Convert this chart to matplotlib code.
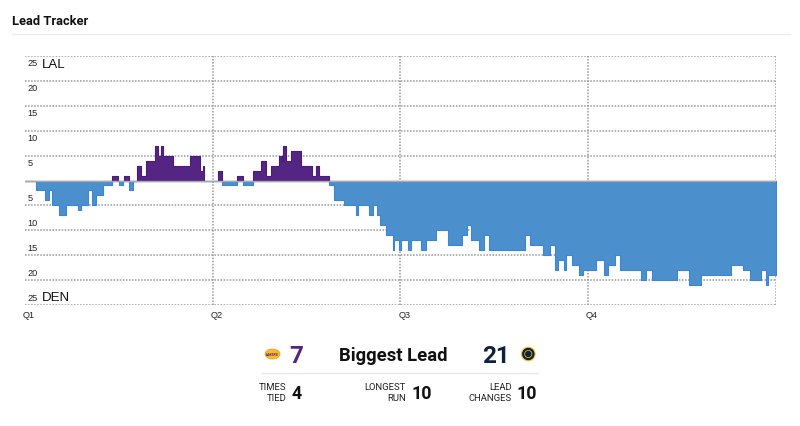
import numpy as np
import matplotlib
matplotlib.use('Agg')
import matplotlib.pyplot as plt
from matplotlib.patches import Ellipse, Circle
from matplotlib.transforms import offset_copy

plt.rcParams['font.family'] = ['Roboto', 'DejaVu Sans']

# 比赛已进行时间（分钟）与分差（正数 = 湖人领先，负数 = 掘金领先）
minutes = [0.0, 0.68, 1.28, 1.53, 1.71, 2.17, 2.62, 3.37, 3.58, 4.05, 4.30, 4.54, 4.97,
           5.54, 5.93, 6.01, 6.25, 6.31, 6.63, 6.89, 7.18, 7.40, 7.74, 8.31, 8.52, 8.70,
           8.84, 9.44, 10.55, 11.19, 11.36, 11.45,
           12.36, 12.58, 13.54, 13.92, 14.56, 15.09, 15.39, 15.73, 16.26, 16.41, 16.52,
           16.69, 17.03, 17.67, 18.33, 18.62, 18.78, 19.46, 19.78, 20.40, 21.16, 21.32,
           22.01, 22.23, 22.53, 22.70, 23.11, 23.51, 23.57, 23.93,
           24.06, 24.47, 24.70, 25.32, 25.64, 26.28, 27.03, 27.96, 28.29, 28.50, 29.05,
           29.32, 29.69, 31.97, 32.32, 33.12, 33.57, 33.92, 34.06, 34.46, 34.59, 34.99,
           35.44, 35.70,
           36.51, 37.02, 37.30, 37.70, 38.04, 39.39, 39.71, 40.09, 41.72, 42.47, 43.22,
           45.14, 45.93, 46.37, 47.03, 47.35, 47.51, 48.0]
margin = [0, -2, -4, -2, -5, -7, -5, -6, -5, -2, -5, -3, -1,
          1, 0, -1, 0, 1, -2, 0, 3, 1, 4, 7, 5, 7,
          5, 3, 5, 2, 3, 0,
          2, -1, 1, -1, 2, 4, 1, 3, 5, 4, 7,
          4, 6, 3, 1, 3, 1, -1, -4, -5, -7, -5,
          -7, -5, -7, -9, -11, -14, -12, -14,
          -12, -14, -12, -14, -12, -10, -13, -11, -9, -12, -14,
          -11, -14, -11, -13, -15, -13, -18, -16, -18, -15, -17,
          -19, -18,
          -16, -19, -17, -15, -18, -20, -18, -20, -18, -21, -19,
          -17, -18, -20, -18, -21, -19, -19]

quarter_labels = ['Q1', 'Q2', 'Q3', 'Q4']
quarter_starts = [0, 12, 24, 36]
y_ticks = [25, 20, 15, 10, 5, -5, -10, -15, -20, -25]
home_team = 'LAL'
away_team = 'DEN'
lal_biggest = 7
den_biggest = 21
stat_names = ['TIMES\nTIED', 'LONGEST\nRUN', 'LEAD\nCHANGES']
stat_values = [4, 10, 10]

lal_purple = '#552583'
lal_edge = '#4a1c78'
den_blue = '#4b8fcc'
den_edge = '#3a86d9'
den_navy = '#0e2240'

fig = plt.figure(figsize=(8, 4.27), dpi=100)

# 主图区域
ax = fig.add_axes([25 / 800, 1 - 306 / 427, 750.7 / 800, 249 / 427])
ax.set_xlim(0, 48)
ax.set_ylim(-25, 25)
ax.axis('off')

t = np.array(minutes)
v = np.array(margin)
ax.fill_between(t, 0, np.clip(v, 0, None), step='post', facecolor=lal_purple,
                edgecolor=lal_edge, linewidth=0.8, zorder=2)
ax.fill_between(t, 0, np.clip(v, None, 0), step='post', facecolor=den_blue,
                edgecolor=den_edge, linewidth=0.8, zorder=2)

# 网格线
for y in range(-25, 30, 5):
    if y == 0:
        ax.axhline(0, color='#aaaaaa', linewidth=0.9, zorder=3)
    else:
        ax.axhline(y, color='#999999', linewidth=1.1, linestyle=(0, (1, 1)), zorder=1)
for x in quarter_starts[1:] + [48]:
    ax.axvline(x, color='#999999', linewidth=1.1, linestyle=(0, (1, 1)), zorder=1)

# 刻度文字
down = offset_copy(ax.transData, fig=fig, x=0, y=-2, units='dots')
up = offset_copy(ax.transData, fig=fig, x=0, y=3, units='dots')
for y in y_ticks:
    if y > 0:
        ax.text(0.15, y, str(y), transform=down, va='top', ha='left', fontsize=6.6,
                family=['Liberation Sans'], color='#222222')
    else:
        ax.text(0.15, y, str(abs(y)), transform=up, va='bottom', ha='left', fontsize=6.6,
                family=['Liberation Sans'], color='#222222')
ax.text(1.08, 25, home_team, transform=offset_copy(ax.transData, fig=fig, x=0, y=-2, units='dots'),
        va='top', ha='left', fontsize=9.5, family=['Liberation Sans'], color='#111111')
ax.text(1.08, -25, away_team, transform=offset_copy(ax.transData, fig=fig, x=0, y=2, units='dots'),
        va='bottom', ha='left', fontsize=9.5, family=['Liberation Sans'], color='#111111')

qtrans = offset_copy(ax.transData, fig=fig, x=-2, y=-5, units='dots')
for q, x in zip(quarter_labels, quarter_starts):
    ax.text(x, -25, q, transform=qtrans, va='top', ha='left', fontsize=6.6,
            family=['Liberation Sans'], color='#222222')

# 覆盖层：像素坐标
ov = fig.add_axes([0, 0, 1, 1], zorder=5)
ov.set_xlim(0, 800)
ov.set_ylim(427, 0)
ov.axis('off')
ov.patch.set_alpha(0)

ov.text(12.5, 25, 'Lead Tracker', fontsize=9.3, fontweight='bold', color='#111111',
        ha='left', va='baseline')
ov.plot([12, 790], [34.5, 34.5], color='#ececec', linewidth=1)

# 最大领先
ov.add_patch(Ellipse((272.5, 355), 15, 10, facecolor='#fdb927', edgecolor='#e0a020', lw=0.5))
ov.text(272.5, 355.5, 'LAKERS', fontsize=2.6, fontweight='bold', style='italic',
        color=lal_purple, ha='center', va='center')
ov.text(296, 363.3, str(lal_biggest), fontsize=17.5, fontweight='bold', color=lal_purple,
        ha='center', va='baseline')
ov.text(392.8, 360.7, 'Biggest Lead', fontsize=13.3, fontweight='bold', color='#111111',
        ha='center', va='baseline')
ov.text(495.8, 363.3, str(den_biggest), fontsize=17.5, fontweight='bold', color=den_navy,
        ha='center', va='baseline')
ov.add_patch(Circle((528.3, 355), 6.8, facecolor=den_navy, edgecolor='#fec524', lw=0.8))
ov.add_patch(Circle((528.3, 355), 3.6, facecolor='none', edgecolor='#fec524', lw=0.5))
ov.plot([261.7, 538.3], [374.3, 374.3], color='#e8e8e8', linewidth=1)

# 其他统计
label_right = [286.7, 405.7, 511.7]
value_left = [291.2, 411.2, 517]
for name, val, xr, xl in zip(stat_names, stat_values, label_right, value_left):
    l1, l2 = name.split('\n')
    ov.text(xr, 390, l1, fontsize=6.8, color='#222222', ha='right', va='baseline')
    ov.text(xr, 400.7, l2, fontsize=6.8, color='#222222', ha='right', va='baseline')
    ov.text(xl, 399, str(val), fontsize=12.8, fontweight='bold', color='#111111',
            ha='left', va='baseline')

fig.savefig('out.png', dpi=100)
